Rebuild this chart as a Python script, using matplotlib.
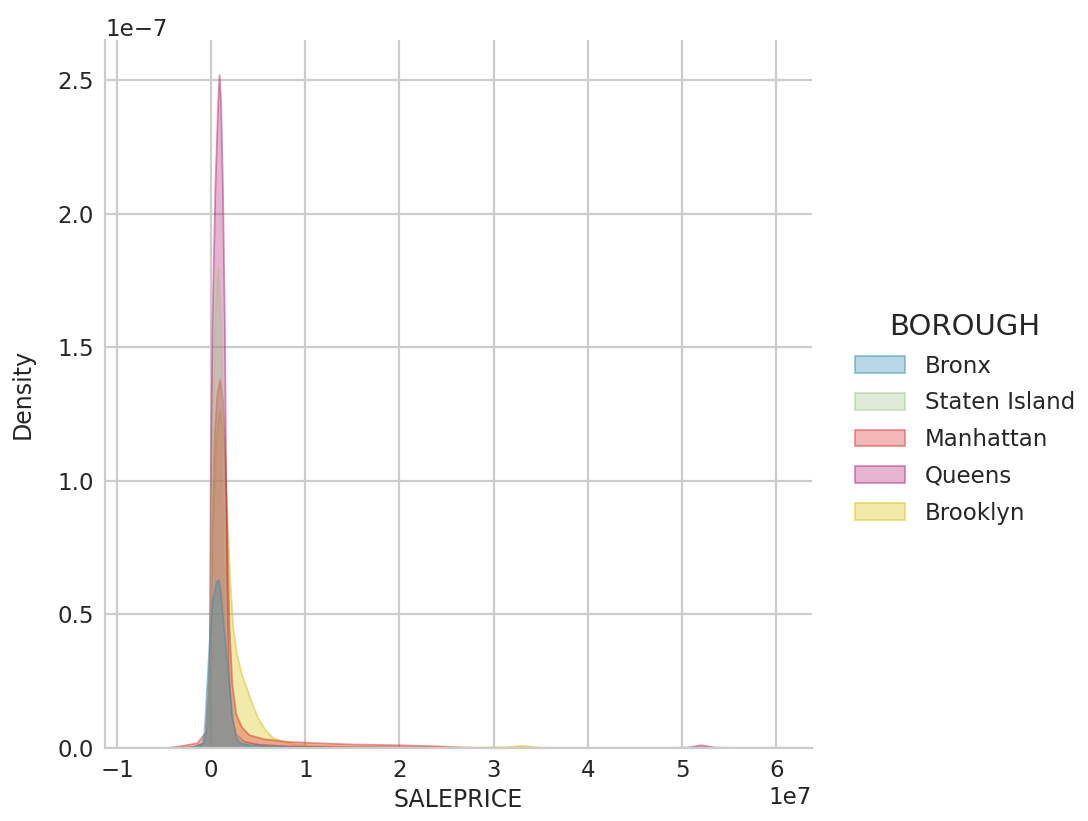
import numpy as np
import matplotlib
matplotlib.use("Agg")
import matplotlib.pyplot as plt
from matplotlib.patches import Patch
from matplotlib.colors import to_rgba

# Price grid in units of 10 million dollars, density in units of 1e-7
PRICE_UNIT = 1e7
DENSITY_UNIT = 1e-7

boroughs = ["Bronx", "Staten Island", "Manhattan", "Queens", "Brooklyn"]
colors = ["#3490b8", "#a1c68a", "#da3434", "#b22979", "#dac30c"]

bronx_x = [-0.3, -0.1, -0.075, -0.06, -0.045, -0.02, 0.01, 0.05, 0.075, 0.1, 0.12,
           0.16, 0.2, 0.23, 0.26, 0.3, 0.4, 0.6, 0.9, 1.2, 1.6]
bronx_d = [0.0, 0.01, 0.06, 0.15, 0.25, 0.4, 0.55, 0.62, 0.63, 0.58, 0.5,
           0.35, 0.2, 0.1, 0.04, 0.02, 0.012, 0.008, 0.005, 0.003, 0.0]

staten_x = [-0.3, -0.1, -0.04, -0.015, 0.01, 0.04, 0.07, 0.10, 0.13, 0.15, 0.17,
            0.2, 0.25, 0.35, 0.5, 0.8, 1.2]
staten_d = [0.0, 0.01, 0.06, 0.4, 1.1, 1.6, 1.80, 1.6, 1.1, 0.6, 0.3,
            0.12, 0.05, 0.02, 0.008, 0.003, 0.0]

manhattan_x = [-0.5, -0.3, -0.15, -0.06, -0.02, 0.0, 0.03, 0.06, 0.09, 0.12, 0.15,
               0.17, 0.19, 0.22, 0.26, 0.32, 0.4, 0.55, 0.8, 1.1, 1.5, 2.0, 2.4,
               2.7, 3.0]
manhattan_d = [0.0, 0.01, 0.02, 0.06, 0.3, 0.7, 1.15, 1.32, 1.38, 1.3, 1.05,
               0.75, 0.45, 0.24, 0.13, 0.08, 0.05, 0.035, 0.025, 0.02, 0.015, 0.012,
               0.008, 0.003, 0.0]

queens_x = [-0.45, -0.2, -0.08, -0.035, -0.02, -0.008, 0.01, 0.04, 0.07, 0.085,
            0.10, 0.12, 0.14, 0.155, 0.165, 0.18, 0.21, 0.26, 0.35, 0.5, 0.8,
            1.2, 2.0, 3.0, 4.5, 5.05, 5.2, 5.35, 6.0]
queens_d = [0.0, 0.004, 0.02, 0.08, 0.35, 1.0, 1.6, 2.1, 2.42, 2.52,
            2.42, 2.1, 1.6, 1.0, 0.6, 0.3, 0.12, 0.05, 0.025, 0.014, 0.008,
            0.005, 0.003, 0.001, 0.0005, 0.003, 0.012, 0.003, 0.0]

brooklyn_x = [-0.4, -0.2, -0.08, -0.04, -0.015, 0.01, 0.05, 0.09, 0.13, 0.17, 0.2,
              0.23, 0.27, 0.32, 0.38, 0.44, 0.5, 0.57, 0.65, 0.75, 0.9, 1.1, 1.5,
              2.0, 2.6, 3.1, 3.3, 3.5, 4.0]
brooklyn_d = [0.0, 0.005, 0.02, 0.08, 0.35, 0.8, 1.15, 1.27, 1.15, 0.85, 0.62,
              0.45, 0.35, 0.28, 0.22, 0.16, 0.11, 0.07, 0.04, 0.025, 0.015, 0.01,
              0.006, 0.004, 0.003, 0.004, 0.01, 0.003, 0.0]

curves = {
    "Bronx": (bronx_x, bronx_d),
    "Staten Island": (staten_x, staten_d),
    "Manhattan": (manhattan_x, manhattan_d),
    "Queens": (queens_x, queens_d),
    "Brooklyn": (brooklyn_x, brooklyn_d),
}

FILL_ALPHA = 0.35

plt.rcParams.update({
    "font.family": "DejaVu Sans",
    "text.color": "#262626",
    "axes.labelcolor": "#262626",
    "xtick.color": "#262626",
    "ytick.color": "#262626",
})

fig = plt.figure(figsize=(10.88, 8.21), dpi=100)
ax = fig.add_axes([105 / 1088, 73 / 821, (812 - 105) / 1088, (748 - 40) / 821])

# later hue levels are drawn first so Bronx ends up on top
for name, color in reversed(list(zip(boroughs, colors))):
    xs, ds = curves[name]
    x = np.asarray(xs) * PRICE_UNIT
    d = np.asarray(ds) * DENSITY_UNIT
    ax.fill_between(x, 0, d, facecolor=to_rgba(color, FILL_ALPHA),
                    edgecolor=to_rgba(color, FILL_ALPHA + 0.15), linewidth=1.3)

ax.set_xlim(-1.127e7, 6.38e7)
ax.set_ylim(0, 2.65e-7)
ax.set_xticks(np.arange(-1, 7) * PRICE_UNIT)
ax.set_yticks(np.arange(0, 2.51, 0.5) * DENSITY_UNIT)

ax.grid(True, color="#cccccc", linewidth=1.6)
ax.set_axisbelow(True)
for side in ("top", "right"):
    ax.spines[side].set_visible(False)
for side in ("left", "bottom"):
    ax.spines[side].set_color("#cccccc")
    ax.spines[side].set_linewidth(1.6)
ax.tick_params(length=0, labelsize=16.5, pad=8)
ax.xaxis.get_offset_text().set_fontsize(16.5)
ax.yaxis.get_offset_text().set_fontsize(16.5)

ax.set_xlabel("SALEPRICE", fontsize=17, labelpad=4)
ax.set_ylabel("Density", fontsize=17, labelpad=16)

handles = [Patch(facecolor=to_rgba(c, FILL_ALPHA), edgecolor=to_rgba(c, FILL_ALPHA + 0.15),
                 linewidth=1.3, label=b) for b, c in zip(boroughs, colors)]
leg = fig.legend(handles=handles, title="BOROUGH", loc="center left",
                 bbox_to_anchor=(834 / 1088, 0.49), frameon=False,
                 fontsize=16.5, title_fontsize=21, handlelength=2.2,
                 handleheight=0.75, labelspacing=0.6, handletextpad=0.85)

fig.savefig("out.png", dpi=100)
